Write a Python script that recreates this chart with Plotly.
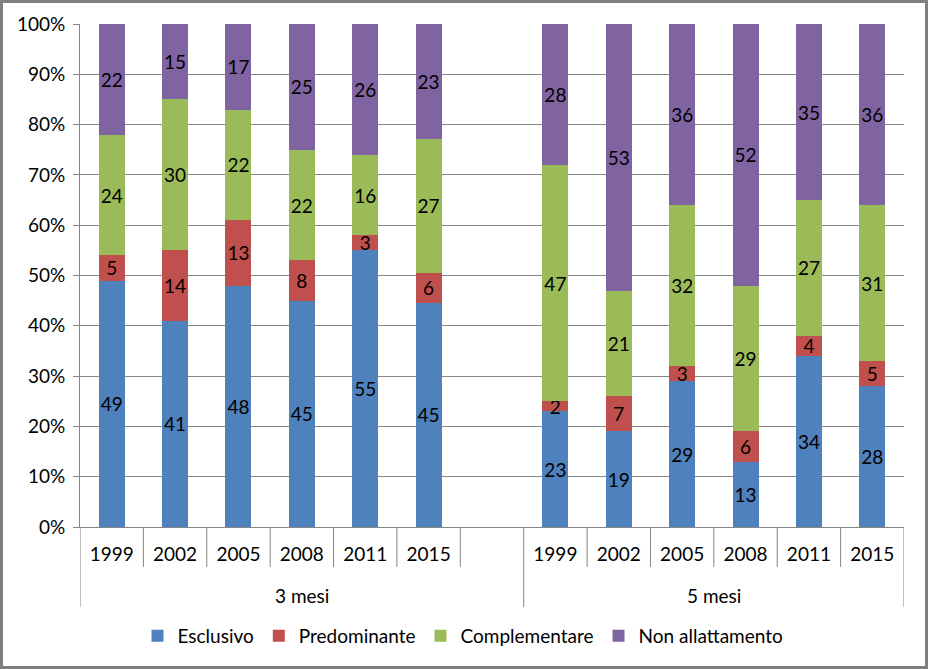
import plotly.graph_objects as go

# ---- data ----
years = ["1999", "2002", "2005", "2008", "2011", "2015"]
groups = ["3 mesi", "5 mesi"]
series_names = ["Esclusivo", "Predominante", "Complementare", "Non allattamento"]
esclusivo_3 = [49, 41, 48, 45, 55, 45]
esclusivo_5 = [23, 19, 29, 13, 34, 28]
predominante_3 = [5, 14, 13, 8, 3, 6]
predominante_5 = [2, 7, 3, 6, 4, 5]
complementare_3 = [24, 30, 22, 22, 16, 27]
complementare_5 = [47, 21, 32, 29, 27, 31]
non_allatt_3 = [22, 15, 17, 25, 26, 23]
non_allatt_5 = [28, 53, 36, 52, 35, 36]
colors = ["#4F81BD", "#C0504D", "#9BBB59", "#8064A2"]

# x slots: 6 years, one blank slot, 6 years
x_pos = list(range(0, 6)) + list(range(7, 13))
tick_text = years + years

series_vals = [
    esclusivo_3 + esclusivo_5,
    predominante_3 + predominante_5,
    complementare_3 + complementare_5,
    non_allatt_3 + non_allatt_5,
]

FONT = "Lato"
FS = 19
fig = go.Figure()
for name, vals, col in zip(series_names, series_vals, colors):
    fig.add_trace(go.Bar(
        x=x_pos, y=vals, name=name, marker=dict(color=col, line=dict(width=0)),
        text=[str(v) for v in vals], textposition="inside", textangle=0,
        insidetextanchor="middle", constraintext="none",
        textfont=dict(family=FONT, size=FS, color="black"),
        hoverinfo="skip",
    ))

W, H = 928, 669
L, R, T, B = 80, 24, 24, 142
pw, ph = W - L - R, H - T - B

def px_x(px):
    return (px - L) / pw

def px_y(py):
    return (H - B - py) / ph

shapes = []
grey = "#868686"
# category separators (year row)
for b in [0.5, 1.5, 2.5, 3.5, 4.5, 5.5, 7.5, 8.5, 9.5, 10.5, 11.5]:
    shapes.append(dict(type="line", xref="x", yref="paper", x0=b, x1=b,
                       y0=0, y1=px_y(567), line=dict(color=grey, width=1)))
# group separators (long)
for b in [-0.5, 6.5, 12.5]:
    shapes.append(dict(type="line", xref="x", yref="paper", x0=b, x1=b,
                       y0=0, y1=px_y(607), line=dict(color=grey, width=1)))
# outer chart border
shapes.append(dict(type="rect", xref="paper", yref="paper",
                   x0=px_x(1.5), x1=px_x(W - 1.5), y0=px_y(H - 1.5), y1=px_y(1.5),
                   line=dict(color="#808080", width=3), fillcolor="rgba(0,0,0,0)",
                   layer="below"))

annotations = [
    dict(text=groups[0], x=3, xref="x", y=px_y(595), yref="paper",
         showarrow=False, yanchor="middle", font=dict(family=FONT, size=FS, color="black")),
    dict(text=groups[1], x=9.5, xref="x", y=px_y(595), yref="paper",
         showarrow=False, yanchor="middle", font=dict(family=FONT, size=FS, color="black")),
]

fig.update_layout(
    width=W, height=H, barmode="stack", barnorm="percent", bargap=0.59,
    margin=dict(l=L, r=R, t=T, b=B, autoexpand=False),
    paper_bgcolor="white", plot_bgcolor="white",
    font=dict(family=FONT, size=FS, color="black"),
    uniformtext=dict(minsize=FS, mode="show"),
    showlegend=True,
    legend=dict(orientation="h", x=px_x(463), xanchor="center", y=px_y(636), yanchor="middle",
                font=dict(family=FONT, size=FS, color="black"),
                itemwidth=30, traceorder="normal"),
    xaxis=dict(range=[-0.5, 12.5], tickvals=x_pos, ticktext=tick_text,
               showgrid=False, zeroline=False, showline=True, linecolor=grey,
               ticks="", ticklabelstandoff=10, fixedrange=True),
    yaxis=dict(range=[0, 100], dtick=10, ticksuffix="%", showgrid=True,
               gridcolor=grey, gridwidth=1, zeroline=False, showline=True,
               linecolor=grey, ticks="outside", ticklen=6, tickcolor=grey,
               ticklabelstandoff=4, fixedrange=True),
    shapes=shapes, annotations=annotations,
)

fig.write_html("out.html", config={"displayModeBar": False},
               post_script="document.body.style.margin='0';document.body.style.overflow='hidden';")
